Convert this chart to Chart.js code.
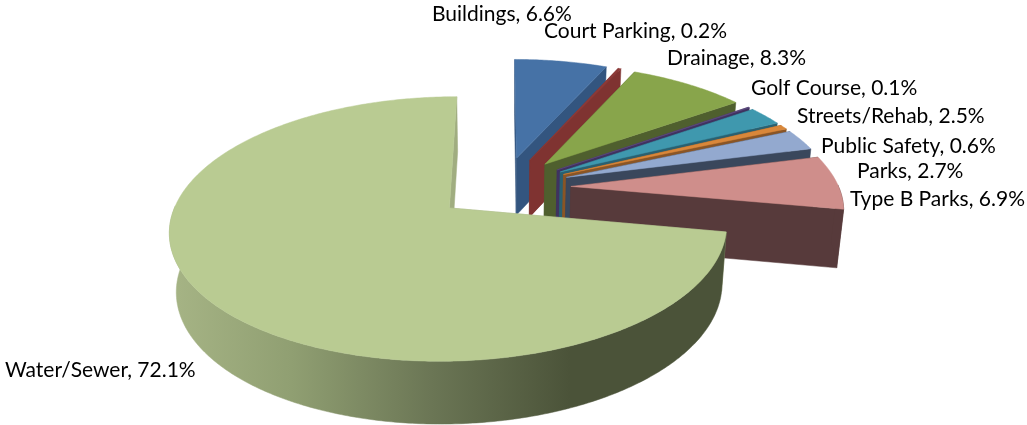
<!DOCTYPE html>
<html><head><meta charset="utf-8">
<style>html,body{margin:0;padding:0;background:#fff}#w{width:1027px;height:425px}</style>
<script src="https://cdn.jsdelivr.net/npm/chart.js@4/dist/chart.umd.min.js"></script>
</head><body><div id="w"><canvas id="c" width="1027" height="425"></canvas></div>
<script>
const categories = ["Buildings","Court Parking","Drainage","Golf Course","Streets/Rehab","Public Safety","Parks","Type B Parks","Water/Sewer"];
const values = [6.6,0.2,8.3,0.1,2.5,0.6,2.7,6.9,72.1];
const topColors = ["#4672a6","#8c3a38","#88a54b","#5f4a7f","#3f98ae","#d9873a","#93a9cf","#cf8e8b","#b9cb92"];
const wallColors = ["#33557f","#7f3331","#4f5f2e","#3f3260","#2a6070","#8a5525","#3a475c","#573a3b","#a0ad80"];
const labelPos = [[432,14],[544,31],[667,58],[751,88],[797,116],[821,146],[857,171],[850,199],[5,370]];
const K=0.00058, M=0, S=0.457, DEPTH=58, CONV=0.00035;

function proj(cx,cy,X,Y,z){
  const w=1/(1+K*Y+M*X);
  const d=z*DEPTH*Math.pow(w,0.4);
  const sx=X*w, sy=-S*Y*w;
  return [cx+sx*(1-CONV*d), cy+sy+d];
}
const pie3d={
  id:'pie3d',
  beforeDatasetsDraw(chart){
    const {ctx}=chart;
    const arcs=chart.getDatasetMeta(0).data;
    const grad=ctx.createLinearGradient(172,0,570,0);
    grad.addColorStop(0,"#a6b485");grad.addColorStop(0.3,"#909f72");grad.addColorStop(0.65,"#6b7655");grad.addColorStop(1,"#4b5339");
    arcs.forEach((el,i)=>{
      const p=el.getProps(['x','y','startAngle','endAngle','outerRadius'],true);
      const off=el.options.offset||0, mid=(p.startAngle+p.endAngle)/2;
      const ox=Math.cos(mid)*off, oy=-Math.sin(mid)*off;
      const pt=(a,r,z)=>proj(p.x,p.y,ox+Math.cos(a)*r,oy-Math.sin(a)*r,z);
      const n=Math.max(4,Math.ceil((p.endAngle-p.startAngle)*90));
      const edge=[];for(let j=0;j<=n;j++)edge.push(p.startAngle+(p.endAngle-p.startAngle)*j/n);
      const poly=(pts,col)=>{ctx.beginPath();pts.forEach((q,j)=>j?ctx.lineTo(q[0],q[1]):ctx.moveTo(q[0],q[1]));ctx.closePath();ctx.fillStyle=col;ctx.strokeStyle=col;ctx.lineWidth=0.5;ctx.fill();ctx.stroke();};
      const r=p.outerRadius, a0=p.startAngle, a1=p.endAngle;
      poly([pt(a0,0,0),pt(a0,r,0),pt(a0,r,1),pt(a0,0,1)],wallColors[i]);
      poly([pt(a1,0,0),pt(a1,r,0),pt(a1,r,1),pt(a1,0,1)],wallColors[i]);
      const front=edge.filter(a=>Math.sin(a)>-0.02);
      if(front.length>1){
        const outer=front.map(a=>pt(a,r,0)).concat(front.slice().reverse().map(a=>pt(a,r,1)));
        poly(outer,i===8?grad:wallColors[i]);
      }
      poly([pt(a0,0,0)].concat(edge.map(a=>pt(a,r,0))),topColors[i]);
    });
    ctx.fillStyle="#000";ctx.textBaseline="middle";ctx.textAlign="left";ctx.font='21px Lato';
    categories.forEach((c,i)=>ctx.fillText(`${c}, ${values[i].toFixed(1)}%`,labelPos[i][0],labelPos[i][1]));
    return false;
  }
};
new Chart(document.getElementById('c'),{
  type:'pie',
  data:{labels:categories,datasets:[{data:values,backgroundColor:topColors,offset:68,borderWidth:0}]},
  options:{responsive:false,animation:false,radius:268,
    layout:{padding:{right:21,bottom:50}},
    plugins:{legend:{display:false},tooltip:{enabled:false}}},
  plugins:[pie3d]
});
</script></body></html>
